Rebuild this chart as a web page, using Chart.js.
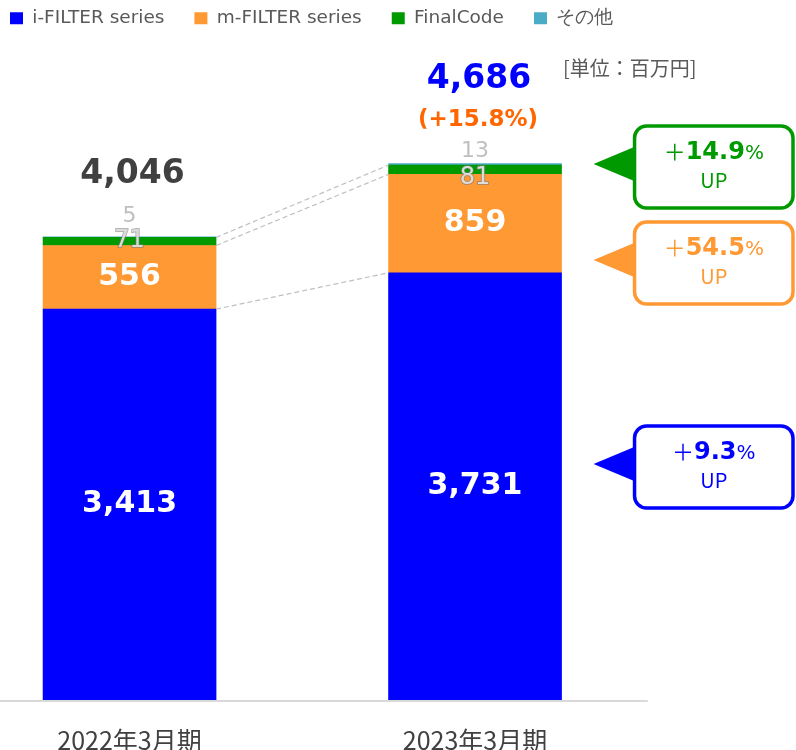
<!DOCTYPE html>
<html><head><meta charset="utf-8">
<script src="https://cdn.jsdelivr.net/npm/chart.js@4/dist/chart.umd.min.js"></script>
<style>html,body{margin:0;padding:0;background:#fff}#wrap{width:796px;height:750px;position:relative}</style>
</head><body><div id="wrap"><canvas id="c" width="796" height="750"></canvas></div>
<script>
const categories = ['2022年3月期', '2023年3月期'];
const seriesNames = ['i-FILTER series', 'm-FILTER series', 'FinalCode', 'その他'];
const iFilter = [3413, 3731];
const mFilter = [556, 859];
const finalCode = [71, 81];
const others = [5, 13];
const totalLabels = ['4,046', '4,686'];
const growthLabel = '(+15.8%)';
const growthPct = ['9.3', '54.5', '14.9'];   // i-FILTER, m-FILTER, FinalCode
const unitLabel = '[単位：百万円]';

const colors = ['#0000FF', '#FF9933', '#009900', '#4BACC6'];
const seriesValues = [iFilter, mFilter, finalCode, others];

const NUMF = '"DejaVu Sans", Verdana, sans-serif';
const JPF = '"Noto Sans CJK JP", "Noto Sans", sans-serif';

function rr(ctx, x, y, w, h, r) {
  ctx.beginPath();
  ctx.moveTo(x + r, y);
  ctx.lineTo(x + w - r, y);
  ctx.arcTo(x + w, y, x + w, y + r, r);
  ctx.lineTo(x + w, y + h - r);
  ctx.arcTo(x + w, y + h, x + w - r, y + h, r);
  ctx.lineTo(x + r, y + h);
  ctx.arcTo(x, y + h, x, y + h - r, r);
  ctx.lineTo(x, y + r);
  ctx.arcTo(x, y, x + r, y, r);
  ctx.closePath();
}

const legendShift = {
  id: 'legendShift',
  afterLayout(chart) {
    if (chart.legend) { chart.legend.left -= 20; chart.legend.top -= 21; }
  }
};

const overlay = {
  id: 'overlay',
  afterDatasetsDraw(chart) {
    const ctx = chart.ctx;
    const xs = chart.scales.x, ys = chart.scales.y;
    const metas = [0, 1, 2, 3].map(i => chart.getDatasetMeta(i));
    ctx.save();
    // baseline
    ctx.strokeStyle = '#D9D9D9';
    ctx.lineWidth = 2;
    ctx.beginPath();
    const by = ys.getPixelForValue(0) + 1;
    ctx.moveTo(chart.chartArea.left, by);
    ctx.lineTo(xs.getPixelForValue(1.5), by);
    ctx.stroke();
    // dashed connectors
    ctx.strokeStyle = '#BFBFBF';
    ctx.lineWidth = 1.2;
    ctx.setLineDash([5, 3]);
    for (let d = 0; d < 3; d++) {
      const a = metas[d].data[0], b = metas[d].data[1];
      ctx.beginPath();
      ctx.moveTo(a.x + a.width / 2, a.y);
      ctx.lineTo(b.x - b.width / 2, b.y);
      ctx.stroke();
    }
    ctx.setLineDash([]);
    ctx.textAlign = 'center';
    ctx.textBaseline = 'middle';
    for (let i = 0; i < categories.length; i++) {
      for (let d = 0; d < 2; d++) {
        const el = metas[d].data[i];
        ctx.font = 'bold 30px ' + NUMF;
        ctx.fillStyle = '#FFFFFF';
        ctx.fillText(seriesValues[d][i].toLocaleString('en-US'), el.x, (el.y + el.base) / 2);
      }
      const g = metas[2].data[i];
      ctx.font = '24px ' + NUMF;
      ctx.lineWidth = 2;
      ctx.strokeStyle = 'rgba(120,120,120,0.55)';
      const gy = (g.y + g.base) / 2 + (i === 0 ? -1 : 8);
      ctx.strokeText(String(finalCode[i]), g.x, gy);
      ctx.fillStyle = '#DCDCDC';
      ctx.fillText(String(finalCode[i]), g.x, gy);
      const o = metas[3].data[i];
      ctx.font = '22px ' + NUMF;
      ctx.fillStyle = '#BFBFBF';
      ctx.fillText(String(others[i]), o.x, o.y - (i === 0 ? 21 : 12));
      ctx.font = 'bold 33px ' + NUMF;
      if (i === 0) {
        ctx.fillStyle = '#404040';
        ctx.fillText(totalLabels[i], o.x + 3, o.y - 62);
      } else {
        ctx.fillStyle = '#0000FF';
        ctx.fillText(totalLabels[i], o.x + 4, o.y - 84);
        ctx.font = 'bold 23px ' + NUMF;
        ctx.fillStyle = '#FF6600';
        ctx.fillText(growthLabel, o.x + 3, o.y - 44);
      }
    }
    // unit label
    ctx.textAlign = 'left';
    ctx.font = '20px ' + JPF;
    ctx.fillStyle = '#595959';
    ctx.fillText(unitLabel, 563, 68);

    // callouts
    const bar2 = metas[0].data[1];
    const tipX = bar2.x + bar2.width / 2 + 32;
    const boxL = tipX + 41, boxR = 793;
    const tipYs = [464, 260, 164];
    for (let s = 2; s >= 0; s--) {
      const ty = tipYs[s];
      const cy = ty + 3;
      const top = cy - 41, h = 82;
      ctx.fillStyle = colors[s];
      ctx.beginPath();
      ctx.moveTo(tipX, ty);
      ctx.lineTo(boxL + 2, ty - 18);
      ctx.lineTo(boxL + 2, ty + 18);
      ctx.closePath();
      ctx.fill();
      rr(ctx, boxL, top, boxR - boxL, h, 12);
      ctx.fillStyle = '#FFFFFF';
      ctx.fill();
      ctx.lineWidth = 3.5;
      ctx.strokeStyle = colors[s];
      ctx.stroke();
      const cx = (boxL + boxR) / 2;
      const f1 = '22px ' + JPF, f2 = 'bold 24px ' + NUMF, f3 = '20px ' + NUMF;
      ctx.font = f1; const w1 = ctx.measureText('＋').width;
      ctx.font = f2; const w2 = ctx.measureText(growthPct[s]).width;
      ctx.font = f3; const w3 = ctx.measureText('%').width;
      let x = cx - (w1 + w2 + w3) / 2;
      const ly = cy - 15;
      ctx.fillStyle = colors[s];
      ctx.textAlign = 'left';
      ctx.font = f1; ctx.fillText('＋', x, ly); x += w1;
      ctx.font = f2; ctx.fillText(growthPct[s], x, ly + 1); x += w2;
      ctx.font = f3; ctx.fillText('%', x, ly + 2);
      ctx.textAlign = 'center';
      ctx.font = '20px ' + JPF;
      ctx.fillText('UP', cx, cy + 13);
    }
    ctx.restore();
  }
};

const datasets = seriesNames.map((name, d) => ({
  label: name,
  data: seriesValues[d].map((v, i) => ({ x: i, y: v })),
  backgroundColor: colors[d],
  borderWidth: 0,
  barThickness: 173
}));

new Chart(document.getElementById('c'), {
  type: 'bar',
  data: { datasets },
  plugins: [legendShift, overlay],
  options: {
    responsive: false,
    animation: false,
    devicePixelRatio: 1,
    layout: { padding: 0 },
    plugins: {
      tooltip: { enabled: false },
      legend: {
        position: 'top',
        align: 'start',
        labels: {
          boxWidth: 13, boxHeight: 12, padding: 30,
          color: '#595959',
          font: { family: NUMF, size: 18.5 }
        }
      }
    },
    scales: {
      x: {
        type: 'linear', stacked: true, min: -0.375, max: 1.929, offset: false,
        grid: { display: false },
        border: { display: false },
        afterBuildTicks: (s) => { s.ticks = categories.map((c, i) => ({ value: i })); },
        afterFit: (s) => { s.height = 50; },
        ticks: {
          autoSkip: false, maxRotation: 0, padding: 17,
          color: '#404040', font: { family: JPF, size: 25 },
          callback: (v) => categories[v] ?? ''
        }
      },
      y: { stacked: true, display: false, min: 0, max: 5602 }
    }
  }
});
</script>
</body></html>
